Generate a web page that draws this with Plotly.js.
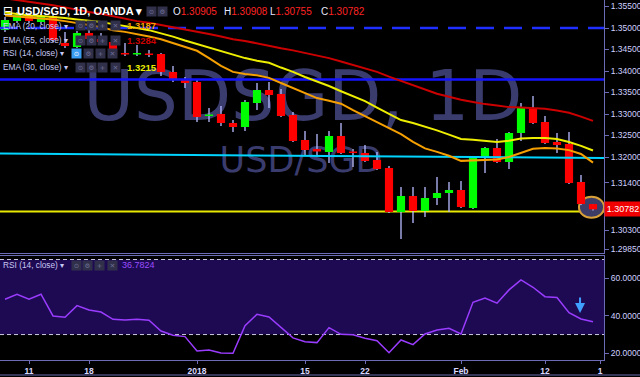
<!DOCTYPE html>
<html><head><meta charset="utf-8">
<script src="https://cdn.plot.ly/plotly-3.0.1.min.js"></script>
<style>html,body{margin:0;padding:0;background:#000;overflow:hidden}#chart{width:640px;height:377px}</style>
</head><body><div id="chart"></div>
<script>
// ---------- data ----------
const dates = ['Dec 07','Dec 08','Dec 11','Dec 12','Dec 13','Dec 14','Dec 15','Dec 18','Dec 19','Dec 20','Dec 21','Dec 22','Dec 26','Dec 27','Dec 28','Dec 29','Jan 02','Jan 03','Jan 04','Jan 05','Jan 08','Jan 09','Jan 10','Jan 11','Jan 12','Jan 15','Jan 16','Jan 17','Jan 18','Jan 19','Jan 22','Jan 23','Jan 24','Jan 25','Jan 26','Jan 29','Jan 30','Jan 31','Feb 01','Feb 02','Feb 05','Feb 06','Feb 07','Feb 08','Feb 09','Feb 12','Feb 13','Feb 14','Feb 15','Feb 16'];
const openP  = [1.34953,1.35163,1.35302,1.35140,1.35279,1.34651,1.34558,1.34884,1.34744,1.34674,1.34419,1.34384,1.34407,1.34395,1.33977,1.33814,1.33744,1.32953,1.33000,1.32791,1.32698,1.33256,1.33558,1.33465,1.32977,1.32395,1.32186,1.32116,1.32488,1.32128,1.32093,1.31930,1.31744,1.30721,1.31093,1.30744,1.31047,1.31163,1.31233,1.30814,1.32000,1.32209,1.31884,1.32558,1.33140,1.32814,1.32349,1.32302,1.31419,1.30905];
const highP  = [1.35256,1.35372,1.35349,1.35372,1.35326,1.34907,1.34930,1.35000,1.34884,1.34698,1.34651,1.34605,1.34488,1.34419,1.34116,1.33860,1.33791,1.33140,1.33186,1.32860,1.33326,1.33721,1.33744,1.33581,1.33047,1.32605,1.32535,1.32605,1.32791,1.32186,1.32279,1.32116,1.31791,1.31302,1.31302,1.31302,1.31535,1.31419,1.31442,1.32023,1.32233,1.32419,1.32581,1.33256,1.33419,1.32953,1.32558,1.32581,1.31581,1.30908];
const lowP   = [1.34907,1.35116,1.35116,1.35093,1.34674,1.34535,1.34535,1.34721,1.34651,1.34326,1.34349,1.34349,1.34326,1.33884,1.33744,1.33605,1.32814,1.32814,1.32721,1.32581,1.32605,1.33093,1.33140,1.32930,1.32349,1.32023,1.32000,1.31860,1.32070,1.31767,1.31884,1.31698,1.30698,1.30093,1.30465,1.30605,1.30884,1.30721,1.30814,1.30791,1.31628,1.31860,1.31721,1.32372,1.32767,1.32302,1.32093,1.31372,1.30884,1.30755];
const closeP = [1.35186,1.35302,1.35163,1.35279,1.34721,1.34581,1.34884,1.34744,1.34674,1.34372,1.34384,1.34419,1.34372,1.33977,1.33814,1.33721,1.32930,1.32988,1.32791,1.32698,1.33279,1.33558,1.33442,1.32953,1.32372,1.32163,1.32128,1.32488,1.32093,1.32093,1.31907,1.31721,1.30721,1.31093,1.30744,1.31047,1.31163,1.31233,1.30837,1.32000,1.32209,1.31884,1.32558,1.33140,1.32791,1.32326,1.32279,1.31395,1.30907,1.30782];
const ema20 = [1.3529,1.3527,1.3524,1.3522,1.3520,1.3516,1.3512,1.3507,1.3502,1.3495,1.3491,1.3486,1.3480,1.3474,1.3465,1.3457,1.3447,1.3430,1.3412,1.3398,1.3393,1.3390,1.3384,1.3372,1.3360,1.3349,1.3337,1.3331,1.3324,1.3309,1.3295,1.3281,1.3267,1.3253,1.3235,1.3220,1.3212,1.3203,1.3191,1.3192,1.3193,1.3194,1.3200,1.3209,1.3219,1.3221,1.3220,1.3216,1.3207,1.3187];
const ema30 = [1.3536,1.3533,1.3529,1.3528,1.3526,1.3523,1.3520,1.3517,1.3514,1.3509,1.3505,1.3500,1.3495,1.3488,1.3480,1.3471,1.3463,1.3455,1.3447,1.3438,1.3430,1.3424,1.3419,1.3408,1.3398,1.3386,1.3376,1.3365,1.3353,1.3342,1.3330,1.3315,1.3300,1.3286,1.3279,1.3271,1.3262,1.3252,1.3242,1.3240,1.3237,1.3235,1.3238,1.3243,1.3244,1.3244,1.3242,1.3235,1.3226,1.3215];
const ema55 = [1.3569,1.3565,1.3562,1.3558,1.3553,1.3548,1.3542,1.3537,1.3533,1.3527,1.3522,1.3516,1.3512,1.3507,1.3501,1.3497,1.3491,1.3486,1.3480,1.3474,1.3470,1.3464,1.3458,1.3453,1.3448,1.3442,1.3436,1.3430,1.3422,1.3414,1.3406,1.3398,1.3387,1.3377,1.3366,1.3356,1.3347,1.3340,1.3333,1.3328,1.3323,1.3320,1.3316,1.3315,1.3314,1.3312,1.3308,1.3303,1.3294,1.3284];
const rsi14 = [48.8,51.5,48.8,51.5,39.9,39.2,45.4,43.1,42.0,38.1,37.8,38.1,37.6,31.9,29.6,28.9,21.2,21.8,20.2,20.0,34.7,40.8,39.4,33.9,28.2,26.2,25.7,33.7,30.1,29.9,28.0,26.7,20.3,27.1,24.6,30.3,32.4,33.3,30.3,47.2,49.5,46.7,53.8,59.1,55.2,50.2,49.7,41.7,38.3,36.78];
const levelDashed = 1.3500;
const levelBlue = 1.3380;
const levelYellow = 1.3073;
const trendCyan = [1.32081, 1.31977];
const priceTicks = [1.355,1.35,1.345,1.34,1.335,1.33,1.325,1.32,1.314,1.303,1.2985];
const priceTickText = ['1.35500','1.35000','1.34500','1.34000','1.33500','1.33000','1.32500','1.32000','1.31400','1.30300','1.29850'];
const rsiTicks = [20,40,60];
const rsiTickText = ['20.0000','40.0000','60.0000'];
const timeTicks = [2,7,16,25,30,38,45,49.6];
const timeTickText = ['11','18','2018','15','22','Feb','12','1'];

// ---------- build ----------
const n = closeP.length;
const idx = dates.map((d,i)=>i);
const xr = [-0.4167, 49.917];
const yr = [1.297674, 1.356512];
const rr = [16.43, 71.87];
const GREEN='#00ff00', RED='#ff0000', WICK='#b8bcff';
const bodyBase = idx.map(i=>Math.min(openP[i],closeP[i]));
const bodyH = idx.map(i=>Math.max(Math.abs(closeP[i]-openP[i]),0.0003));
const bodyCol = idx.map(i=>closeP[i]>=openP[i]?GREEN:RED);
const wickH = idx.map(i=>highP[i]-lowP[i]);

const traces = [
  {type:'scatter',mode:'text',x:[24.83],y:[1.33267],text:['USDSGD, 1D'],textposition:'middle center',
   textfont:{family:'DejaVu Sans',size:69,color:'#3a3c6e'},hoverinfo:'skip',xaxis:'x',yaxis:'y',cliponaxis:false},
  {type:'scatter',mode:'text',x:[24.67],y:[1.31849],text:['USD/SGD'],textposition:'middle center',
   textfont:{family:'DejaVu Sans',size:35,color:'#3a3c6e'},hoverinfo:'skip',xaxis:'x',yaxis:'y',cliponaxis:false},
  {type:'scatter',mode:'lines',x:xr,y:[levelDashed,levelDashed],line:{color:'#1f2fff',width:2.5,dash:'18px,10px'},hoverinfo:'skip',xaxis:'x3',yaxis:'y3'},
  {type:'scatter',mode:'lines',x:xr,y:[levelBlue,levelBlue],line:{color:'#1414ff',width:2.5},hoverinfo:'skip',xaxis:'x3',yaxis:'y3'},
  {type:'scatter',mode:'lines',x:xr,y:trendCyan,line:{color:'#00d4ff',width:2},hoverinfo:'skip',xaxis:'x3',yaxis:'y3'},
  {type:'bar',x:idx,y:wickH,base:lowP,width:0.11,marker:{color:WICK,line:{width:0}},hoverinfo:'skip',xaxis:'x3',yaxis:'y3'},
  {type:'bar',x:idx,y:bodyH,base:bodyBase,width:0.68,marker:{color:bodyCol,line:{width:0}},hoverinfo:'skip',xaxis:'x3',yaxis:'y3'},
  {type:'scatter',mode:'lines',x:idx,y:ema55,line:{color:'#cc0000',width:2},hoverinfo:'skip',xaxis:'x3',yaxis:'y3'},
  {type:'scatter',mode:'lines',x:idx,y:ema20,line:{color:'#f5a000',width:2},hoverinfo:'skip',xaxis:'x3',yaxis:'y3'},
  {type:'scatter',mode:'lines',x:idx,y:ema30,line:{color:'#eeee00',width:2},hoverinfo:'skip',xaxis:'x3',yaxis:'y3'},
  {type:'scatter',mode:'lines',x:idx,y:rsi14,line:{color:'#9a3cff',width:1.5},hoverinfo:'skip',xaxis:'x2',yaxis:'y2'}
];

const PW=604, PH=360;
const px = v=>v/PW, py = v=>1-v/PH;
const LEG='#c8c8f4';
const FAM='Liberation Sans, sans-serif';
const ann = [];
function txt(x,y,text,color,size,opt){
  opt=opt||{};
  ann.push({xref:'paper',yref:'paper',x:px(x),y:py(y),xanchor:'left',yanchor:'middle',showarrow:false,text:text,borderpad:0,
    font:{family:opt.family||FAM,size:size,color:color,weight:opt.bold?'bold':'normal'}});
}
function box(x,y,glyph,bg,fg){
  ann.push({xref:'paper',yref:'paper',x:px(x),y:py(y),xanchor:'left',yanchor:'middle',showarrow:false,text:glyph,
    width:9,height:9,borderpad:0,bgcolor:bg,font:{family:'DejaVu Sans',size:6.5,color:fg}});
}
const glyphs=['⊙','⚙','+','✕'];
txt(2,11,'⊟',"#ffffff",12,{family:'DejaVu Sans'});
txt(16,11,'USD/SGD, 1D, OANDA ▾','#ffffff',11,{bold:true});
box(146,11,'⊙','#30304a','#70709a'); box(157,11,'⚙','#30304a','#70709a');
const ohlcLbl=['O','H','L','C'], ohlcX=[172,223,269,320];
const ohlcVal=[openP[n-1],highP[n-1],lowP[n-1],closeP[n-1]];
ohlcLbl.forEach((l,k)=>txt(ohlcX[k],11,l+"<span style='color:#ff2424'>"+ohlcVal[k].toFixed(5)+"</span>",'#e8e8ff',10));
const rows=[
  {y:26,label:'EMA (20, close) ▾',bx:[75,86,97,110],val:ema20[n-1].toFixed(4),vc:'#f5a000'},
  {y:40,label:'EMA (55, close) ▾',bx:[75,86,97,110],val:ema55[n-1].toFixed(4),vc:'#cc0000'},
  {y:53,label:'RSI (14, close) ▾',bx:[71,83,95,107],val:'',vc:'#fff',hl:true},
  {y:67,label:'EMA (30, close) ▾',bx:[75,86,97,110],val:ema30[n-1].toFixed(4),vc:'#eeee00'}
];
rows.forEach(r=>{
  txt(2,r.y,r.label,LEG,8.3);
  r.bx.forEach((bx,k)=>{
    if(r.hl && k===0) box(bx,r.y,glyphs[k],'#3a9cf0','#ffffff');
    else box(bx,r.y,glyphs[k],'#30304a','#70709a');
  });
  if(r.val) txt(126,r.y,r.val,r.vc,9.5,{bold:true});
});
txt(2,265,'RSI (14, close) ▾',LEG,8.3);
[71,82,94,107].forEach((bx,k)=>box(bx,265,glyphs[k],'#30304a','#70709a'));
txt(121,265,'36.7824','#9a4dff',9);
ann.push({xref:'paper',yref:'y',x:1,y:closeP[n-1],xanchor:'left',yanchor:'middle',showarrow:false,
  text:closeP[n-1].toFixed(5),bgcolor:'#f00000',width:34,height:12,borderpad:1,font:{family:FAM,size:9,color:'#ffffff'}});
ann.push({xref:'x2',yref:'y2',x:47.92,y:41.5,ax:0,ay:-17,showarrow:true,arrowhead:2,arrowsize:1,arrowwidth:2,arrowcolor:'#3fa0ff',standoff:0,text:''});

const shapes = [
  {type:'line',layer:'below',xref:'paper',yref:'y',x0:0,x1:1,y0:levelYellow,y1:levelYellow,line:{color:'#e8e800',width:2}},
  {type:'circle',layer:'below',xref:'x',yref:'y',x0:n-1-1.17,x1:n-1+0.92,y0:(highP[n-1]+lowP[n-1])/2-0.00244,y1:(highP[n-1]+lowP[n-1])/2+0.00244,
    fillcolor:'#3c3c66',line:{color:'#d8a038',width:2}},
  {type:'rect',layer:'below',xref:'paper',yref:'y2',x0:0,x1:1,y0:30,y1:70,fillcolor:'#1e0a52',line:{width:0}},
  {type:'line',layer:'below',xref:'paper',yref:'y2',x0:0,x1:1,y0:70,y1:70,line:{color:'#c8c8e0',width:1,dash:'4px,3px'}},
  {type:'line',layer:'below',xref:'paper',yref:'y2',x0:0,x1:1,y0:30,y1:30,line:{color:'#c8c8e0',width:1,dash:'4px,3px'}},
  {type:'line',layer:'above',xref:'paper',yref:'paper',x0:0,x1:640/604,y0:-15/360,y1:-15/360,line:{color:'#6a6ab0',width:1}}
];

const axFont={family:FAM,size:8.5,color:'#d0d0ff'};
const LC='#6c6cb4';
const layout = {
  width:640,height:377,paper_bgcolor:'#000000',plot_bgcolor:'rgba(0,0,0,0)',
  margin:{l:0,r:36,t:0,b:17},showlegend:false,barmode:'overlay',
  xaxis:{domain:[0,1],anchor:'y',range:xr,showgrid:false,zeroline:false,showticklabels:false,ticks:'',showline:true,linecolor:LC,linewidth:1},
  yaxis:{domain:[107/360,1],anchor:'x',range:yr,side:'right',showgrid:false,zeroline:false,tickvals:priceTicks,ticktext:priceTickText,
    tickfont:axFont,ticks:'outside',ticklen:4,tickcolor:LC,showline:true,linecolor:LC,linewidth:1},
  xaxis3:{overlaying:'x',anchor:'y3',range:xr,visible:false},
  yaxis3:{overlaying:'y',anchor:'x3',range:yr,visible:false},
  xaxis2:{domain:[0,1],anchor:'y2',range:xr,showgrid:false,zeroline:false,tickvals:timeTicks,ticktext:timeTickText,
    tickfont:{family:FAM,size:8.5,color:'#d8d8ff',weight:'bold'},ticks:'outside',ticklen:3,tickcolor:LC,
    showline:true,mirror:true,linecolor:LC,linewidth:1},
  yaxis2:{domain:[0,104/360],anchor:'x2',range:rr,side:'right',showgrid:false,zeroline:false,tickvals:rsiTicks,ticktext:rsiTickText,
    tickfont:axFont,ticks:'outside',ticklen:4,tickcolor:LC,showline:true,linecolor:LC,linewidth:1},
  annotations:ann,shapes:shapes
};
Plotly.newPlot('chart',traces,layout,{staticPlot:true,displayModeBar:false});
</script></body></html>
